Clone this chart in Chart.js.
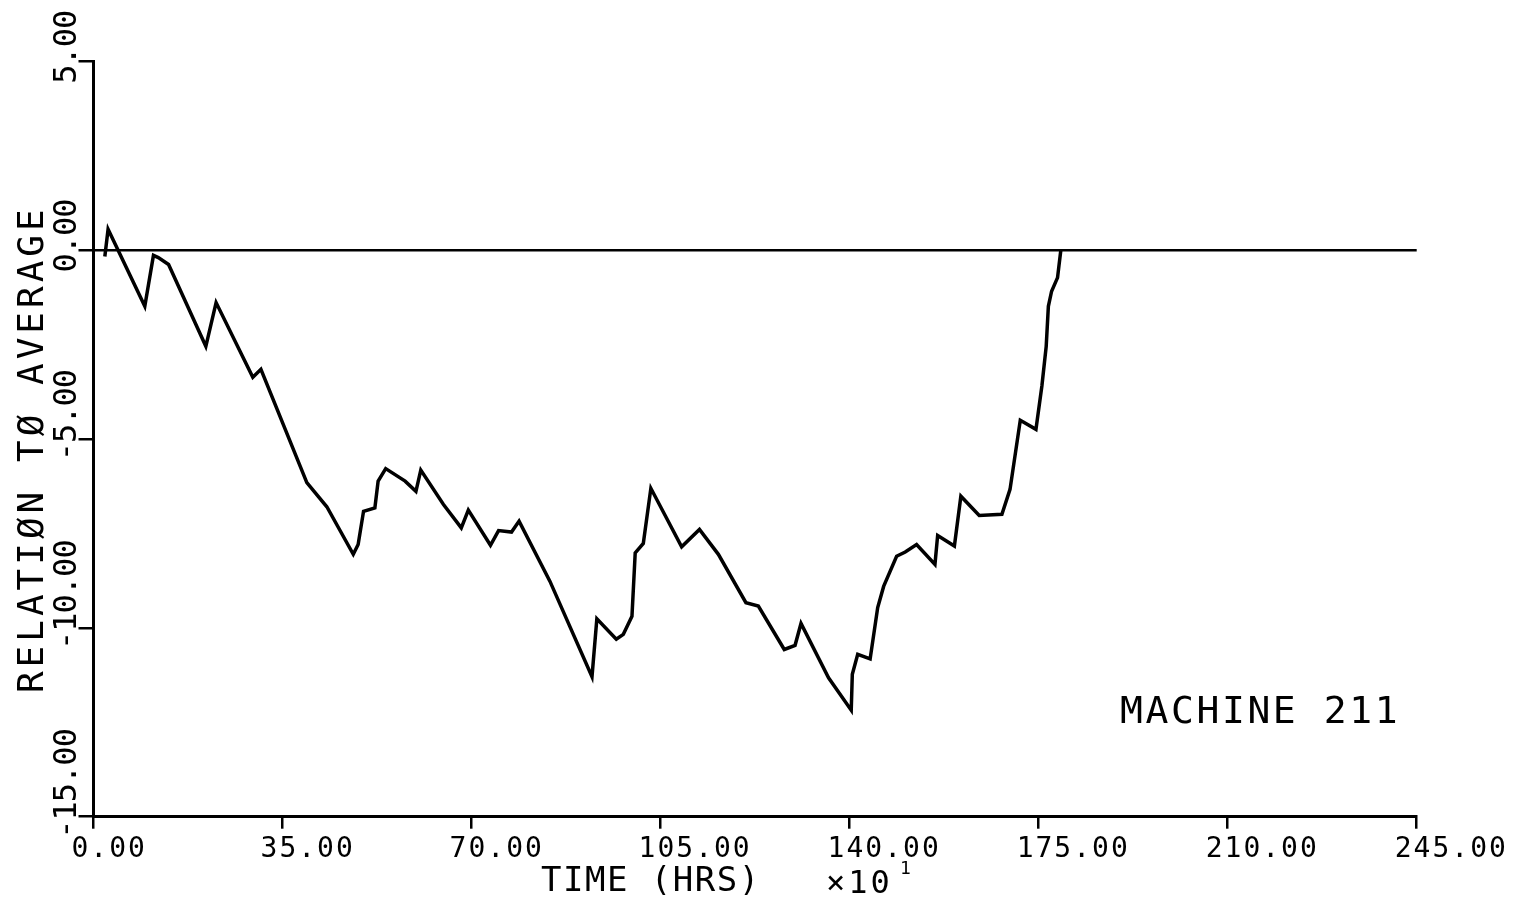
<!DOCTYPE html>
<html>
<head>
<meta charset="utf-8">
<script src="https://cdn.jsdelivr.net/npm/chart.js@4/dist/chart.umd.min.js"></script>
<style>
  html, body { margin: 0; padding: 0; background: #fff; }
  #wrap { width: 1520px; height: 900px; position: relative; }
</style>
</head>
<body>
<div id="wrap"><canvas id="chart"></canvas></div>
<script>
// Data (time in hrs x10, relation to average)
const timeVals = [2.1, 2.7, 9.5, 11.1, 12.0, 13.9, 20.8, 22.7, 29.5, 31.0,
  39.5, 43.2, 48.1, 49.0, 50.0, 52.1, 52.7, 54.1, 57.7, 59.7,
  60.6, 64.8, 68.1, 69.4, 73.5, 75.0, 77.4, 78.8, 84.5, 92.3,
  93.2, 96.8, 98.1, 99.7, 100.3, 101.8, 103.2, 108.9, 112.2, 115.7,
  120.8, 123.1, 127.9, 129.9, 131.0, 136.1, 140.3, 140.5, 141.5, 143.8,
  145.2, 146.3, 148.7, 150.3, 152.4, 155.8, 156.3, 159.4, 160.6, 164.0,
  168.2, 169.7, 171.6, 174.5, 175.6, 176.4, 176.8, 177.4, 178.5, 179.1];
const relVals = [-0.16, 0.56, -1.48, -0.13, -0.19, -0.37, -2.54, -1.38, -3.36, -3.15,
  -6.15, -6.79, -8.05, -7.79, -6.91, -6.82, -6.11, -5.78, -6.11, -6.38,
  -5.82, -6.73, -7.35, -6.88, -7.81, -7.42, -7.46, -7.17, -8.76, -11.29,
  -9.76, -10.30, -10.17, -9.69, -8.01, -7.76, -6.30, -7.85, -7.39, -8.05,
  -9.33, -9.42, -10.57, -10.46, -9.88, -11.32, -12.18, -11.23, -10.70, -10.82,
  -9.46, -8.90, -8.10, -7.99, -7.79, -8.32, -7.55, -7.83, -6.51, -7.02,
  -6.99, -6.33, -4.50, -4.74, -3.59, -2.54, -1.48, -1.08, -0.72, 0.0];

const xTickLabels = ['0.00', '35.00', '70.00', '105.00', '140.00', '175.00', '210.00', '245.00'];
const yTickLabels = ['-15.00', '-10.00', '-5.00', '0.00', '5.00'];
const xTitle = 'TIME (HRS)';
const xScaleNote = '×10';
const xScaleExp = '1';
const yTitle = 'RELATIØN TØ AVERAGE';
const machineLabel = 'MACHINE 211';

const FONT = '"DejaVu Sans Mono", monospace';

// plotter-style text drawn against the chart's own scales
const plotterText = {
  id: 'plotterText',
  afterDraw(chart) {
    const { ctx, scales: { x, y }, chartArea } = chart;
    ctx.save();
    ctx.fillStyle = '#000';
    ctx.textBaseline = 'alphabetic';
    ctx.textAlign = 'left';

    // x tick labels, left-aligned a bit before each tick
    ctx.font = '28px ' + FONT;
    ctx.letterSpacing = '2px';
    xTickLabels.forEach(t => {
      const px = x.getPixelForValue(parseFloat(t));
      ctx.fillText(t, px - 22, chartArea.bottom + 40);
    });

    // y tick labels, rotated to read upward
    ctx.font = '32px ' + FONT;
    ctx.letterSpacing = '-1px';
    yTickLabels.forEach(t => {
      const py = y.getPixelForValue(parseFloat(t));
      ctx.save();
      ctx.translate(chartArea.left - 18, py + 22);
      ctx.rotate(-Math.PI / 2);
      ctx.fillText(t, 0, 0);
      ctx.restore();
    });

    // y axis title
    ctx.save();
    ctx.font = '36px ' + FONT;
    ctx.letterSpacing = '4px';
    ctx.translate(43, (chartArea.top + chartArea.bottom) / 2 + 10);
    ctx.rotate(-Math.PI / 2);
    ctx.textAlign = 'center';
    ctx.fillText(yTitle, 0, 0);
    ctx.restore();

    // x axis title and scale factor
    ctx.font = '34px ' + FONT;
    ctx.letterSpacing = '1.5px';
    ctx.fillText(xTitle, 541, 891);
    ctx.font = '32px ' + FONT;
    ctx.letterSpacing = '3px';
    ctx.fillText(xScaleNote, 826, 893);
    ctx.font = '18px ' + FONT;
    ctx.letterSpacing = '0px';
    ctx.fillText(xScaleExp, 900, 874);

    // machine label
    ctx.font = '38px ' + FONT;
    ctx.letterSpacing = '2.6px';
    ctx.fillText(machineLabel, 1120, 723);
    ctx.restore();
  }
};

const points = timeVals.map((t, i) => ({ x: t, y: relVals[i] }));

new Chart(document.getElementById('chart'), {
  type: 'line',
  data: {
    datasets: [{
      data: points,
      borderColor: '#000',
      borderWidth: 3.5,
      pointRadius: 0,
      tension: 0,
      fill: false
    }]
  },
  options: {
    responsive: true,
    maintainAspectRatio: false,
    animation: false,
    layout: { padding: { left: 78.5, top: 61.7, right: 103.3, bottom: 71.3 } },
    plugins: { legend: { display: false }, tooltip: { enabled: false } },
    scales: {
      x: {
        type: 'linear',
        min: 0,
        max: 245,
        ticks: { stepSize: 35, display: false },
        grid: { drawOnChartArea: false, drawTicks: true, tickLength: 12, tickColor: '#000', lineWidth: 2.5 },
        border: { display: true, color: '#000', width: 3 },
        afterFit(scale) { scale.height = 12; }
      },
      y: {
        type: 'linear',
        min: -15,
        max: 5,
        ticks: { stepSize: 5, display: false },
        grid: {
          drawOnChartArea: true,
          drawTicks: true,
          tickLength: 15,
          tickColor: '#000',
          lineWidth: 2.5,
          color: c => (c.tick && c.tick.value === 0) ? '#000' : 'rgba(0,0,0,0)'
        },
        border: { display: true, color: '#000', width: 3 },
        afterFit(scale) { scale.width = 15; }
      }
    }
  },
  plugins: [plotterText]
});
</script>
</body>
</html>
